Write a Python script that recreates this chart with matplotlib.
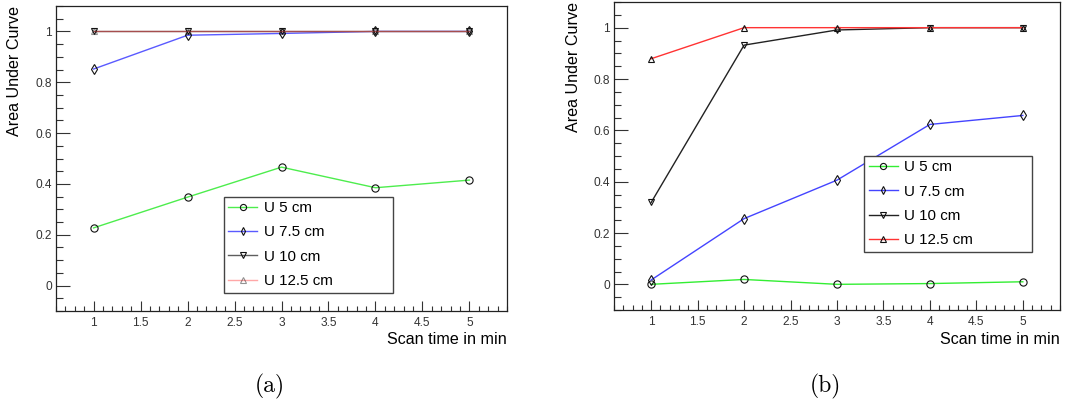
import matplotlib
matplotlib.use("Agg")
import matplotlib.pyplot as plt
from matplotlib.ticker import MultipleLocator, FormatStrFormatter

# ---------------- data ----------------
scan_time = [1, 2, 3, 4, 5]
labels = ["U 5 cm", "U 7.5 cm", "U 10 cm", "U 12.5 cm"]

# panel (a)
a_u5 = [0.227, 0.348, 0.466, 0.385, 0.415]
a_u75 = [0.852, 0.985, 0.992, 1.0, 1.0]
a_u10 = [1.0, 1.0, 1.0, 1.0, 1.0]
a_u125 = [1.0, 1.0, 1.0, 1.0, 1.0]

# panel (b)
b_u5 = [0.0, 0.019, 0.0, 0.003, 0.010]
b_u75 = [0.017, 0.256, 0.406, 0.623, 0.658]
b_u10 = [0.319, 0.932, 0.991, 1.0, 1.0]
b_u125 = [0.879, 1.0, 1.0, 1.0, 1.0]

captions = ["(a)", "(b)"]
xlabel = "Scan time in min"
ylabel = "Area Under Curve"

plt.rcParams['font.family'] = ['Liberation Sans', 'DejaVu Sans']

fig = plt.figure(figsize=(10.70, 4.12), dpi=100)

W, H = 1070.0, 412.0
def axes_px(x0, x1, ytop, ybot):
    return [x0 / W, (H - ybot) / H, (x1 - x0) / W, (ybot - ytop) / H]

ax_a = fig.add_axes(axes_px(56, 507, 6, 311))
ax_b = fig.add_axes(axes_px(614, 1060, 2, 310))

markers = ["o", "d", "v", "^"]
colors_a = ["#4ded4d", "#5a5aff", "#5e5e5e", "#ff3c3c"]
alphas_a = [1.0, 1.0, 1.0, 0.45]
colors_b = ["#33ee33", "#4444ff", "#222222", "#ff3333"]
alphas_b = [1.0, 1.0, 1.0, 1.0]
msizes = [5.2, 4.8, 5.0, 5.0]

panels = [
    (ax_a, [a_u5, a_u75, a_u10, a_u125], colors_a, alphas_a,
     (0.372, 0.059, 0.376, 0.316)),
    (ax_b, [b_u5, b_u75, b_u10, b_u125], colors_b, alphas_b,
     (0.561, 0.188, 0.376, 0.313)),
]

for ax, series, cols, alps, legbox in panels:
    for vals, lab, mk, c, al, ms in zip(series, labels, markers, cols, alps, msizes):
        ax.plot(scan_time, vals, color=c, alpha=al, lw=1.0, marker=mk,
                markersize=ms, markerfacecolor="none", markeredgecolor="#111111",
                markeredgewidth=0.8, label=lab)
    ax.set_xlim(0.6, 5.4)
    ax.set_ylim(-0.1, 1.1)
    ax.xaxis.set_major_locator(MultipleLocator(0.5))
    ax.xaxis.set_minor_locator(MultipleLocator(0.1))
    ax.yaxis.set_major_locator(MultipleLocator(0.2))
    ax.yaxis.set_minor_locator(MultipleLocator(0.05))
    ax.xaxis.set_major_formatter(FormatStrFormatter('%g'))
    ax.yaxis.set_major_formatter(FormatStrFormatter('%g'))
    ax.tick_params(axis='both', which='both', direction='in', top=False, right=False,
                   labelsize=8.6, colors='#333333', width=0.8)
    ax.tick_params(axis='y', which='major', length=10, pad=3)
    ax.tick_params(axis='y', which='minor', length=5)
    ax.tick_params(axis='x', which='major', length=7, pad=4)
    ax.tick_params(axis='x', which='minor', length=3.5)
    for sp in ax.spines.values():
        sp.set_linewidth(0.9)
        sp.set_color('#222222')
    ax.set_ylabel(ylabel, fontsize=11.6, loc='top')
    ax.set_xlabel(xlabel, fontsize=11.6, loc='right')
    bb = ax.get_position()
    ax.yaxis.set_label_coords(-41.0 / (bb.width * W), 1.0)
    ax.xaxis.set_label_coords(1.0, -29.0 / (bb.height * H))
    ax.xaxis.label.set_verticalalignment('center')
    ax.yaxis.label.set_verticalalignment('center')
    leg = ax.legend(loc='upper left', bbox_to_anchor=legbox, mode='expand',
                    fontsize=10.9, frameon=True, fancybox=False, borderpad=0.3,
                    labelspacing=0.68, handlelength=1.9, handletextpad=0.45,
                    borderaxespad=0.0, markerscale=0.85)
    fr = leg.get_frame()
    fr.set_edgecolor('#444444')
    fr.set_linewidth(1.0)
    fr.set_alpha(1.0)

fig.text(269.5 / W, 1 - 386 / H, captions[0], family='cmr10', fontsize=17,
         ha='center', va='center')
fig.text(825 / W, 1 - 386 / H, captions[1], family='cmr10', fontsize=17,
         ha='center', va='center')

fig.savefig("out.png", dpi=100)
